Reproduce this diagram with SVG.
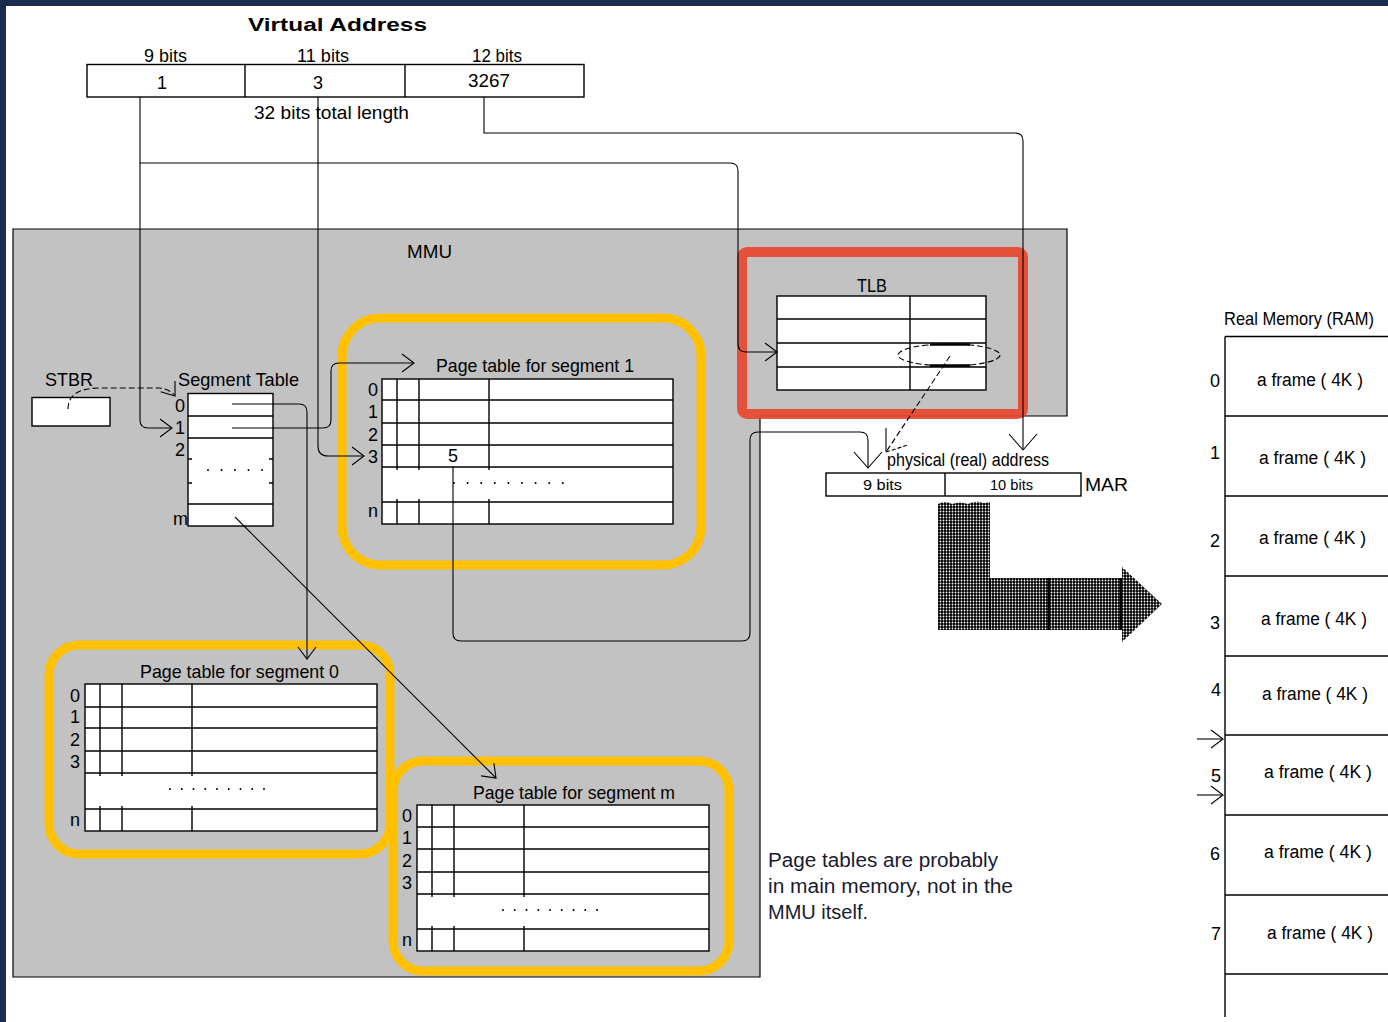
<svg xmlns="http://www.w3.org/2000/svg" width="1388" height="1022" viewBox="0 0 1388 1022">
<style>
text{font-family:"Liberation Sans",Arial,sans-serif;fill:#000;font-size:19px}
.sm{font-size:14px}
.md{font-size:18px}
.dg{font-size:18px}
.tb{fill:#fff;stroke:#000;stroke-width:1.4}
.ln{stroke:#000;stroke-width:1.4;fill:none}
.cn{stroke:#000;stroke-width:1.1;fill:none}
.dash{stroke-dasharray:6 3}
.dots{stroke:#000;stroke-width:2;stroke-linecap:round;fill:none}
.yb{fill:none;stroke:#ffc000;stroke-width:9}
.note{font-size:20px;fill:#1a1a30}
</style>
<defs>
<marker id="ah" viewBox="0 0 14 20" markerWidth="14" markerHeight="20" refX="13" refY="10" orient="auto" markerUnits="userSpaceOnUse"><path d="M1,1 L13,10 L1,19" fill="none" stroke="#000" stroke-width="1.1"/></marker>
<marker id="ahb" viewBox="0 0 18 30" markerWidth="18" markerHeight="30" refX="17" refY="15" orient="auto" markerUnits="userSpaceOnUse"><path d="M1,1 L17,15 L1,29" fill="none" stroke="#000" stroke-width="1.1"/></marker>
<pattern id="half" width="3" height="3" patternUnits="userSpaceOnUse"><rect width="3" height="3" fill="#000"/><circle cx="1.5" cy="1.5" r="0.9" fill="#fff"/></pattern>
</defs>
<rect width="1388" height="1022" fill="#1b2a50"/>
<rect x="6" y="6" width="1382" height="1016" fill="#fff"/>

<g id="virtual-address">
<text x="248" y="31" font-weight="bold" font-size="21" textLength="179" lengthAdjust="spacingAndGlyphs">Virtual Address</text>
<text x="144" y="62" class="md" textLength="43" lengthAdjust="spacingAndGlyphs">9 bits</text>
<text x="297" y="62" class="md" textLength="52" lengthAdjust="spacingAndGlyphs">11 bits</text>
<text x="472" y="62" class="md" textLength="50" lengthAdjust="spacingAndGlyphs">12 bits</text>
<rect x="87" y="64.5" width="497" height="32.5" class="tb"/>
<line x1="245" y1="64.5" x2="245" y2="97" class="ln"/>
<line x1="405" y1="64.5" x2="405" y2="97" class="ln"/>
<text x="162" y="89" class="dg" text-anchor="middle">1</text>
<text x="318" y="89" class="dg" text-anchor="middle">3</text>
<text x="468" y="87" class="md" textLength="42" lengthAdjust="spacingAndGlyphs">3267</text>
<text x="254" y="119" class="md" textLength="155" lengthAdjust="spacingAndGlyphs">32 bits total length</text>
</g>

<g id="mmu">
<path d="M13,229 H1067 V416 H760 V977 H13 Z" fill="#c2c2c2" stroke="#000" stroke-width="1.2"/>
<text x="407" y="258" textLength="45" lengthAdjust="spacingAndGlyphs">MMU</text>
</g>

<g id="stbr">
<text x="45" y="386" textLength="48" lengthAdjust="spacingAndGlyphs">STBR</text>
<rect x="32" y="397.5" width="78" height="28.5" class="tb"/>
</g>

<g id="segment-table">
<text x="178" y="386" textLength="121" lengthAdjust="spacingAndGlyphs">Segment Table</text>
<rect x="188" y="393.5" width="85" height="132.5" class="tb"/>
<path d="M188,416 H273 M188,438 H273 M188,504 H273 M188,459 h4 M188,483 h4 M273,459 h-4 M273,483 h-4" class="ln"/>
<path d="M208,470 H263" class="dots" stroke-dasharray="0 13.5"/>
<text x="175" y="412" class="dg">0</text>
<text x="175" y="434" class="dg">1</text>
<text x="175" y="456" class="dg">2</text>
<text x="173" y="525" class="dg">m</text>
</g>

<g id="page-table-seg1">
<rect x="342" y="318" width="359" height="247" rx="38" class="yb"/>
<text x="436" y="372" textLength="198" lengthAdjust="spacingAndGlyphs">Page table for segment 1</text>
<rect x="382" y="379" width="291" height="145" class="tb"/>
<path d="M382,400 H673 M382,423 H673 M382,445 H673 M382,467 H673 M382,502 H673 M397,379 V470 M419,379 V470 M489,379 V470 M397,499 V524 M419,499 V524 M489,499 V524" class="ln"/>
<path d="M454,483 H563" class="dots" stroke-dasharray="0 13.6"/>
<text x="368" y="396" class="dg">0</text><text x="368" y="418" class="dg">1</text><text x="368" y="441" class="dg">2</text><text x="368" y="463" class="dg">3</text><text x="368" y="517" class="dg">n</text>
<text x="448" y="462" class="dg">5</text>
</g>

<g id="page-table-seg0">
<rect x="49" y="645" width="341" height="209" rx="30" class="yb"/>
<text x="140" y="678" textLength="199" lengthAdjust="spacingAndGlyphs">Page table for segment 0</text>
<rect x="85" y="684" width="292" height="147" class="tb"/>
<path d="M85,707 H377 M85,728 H377 M85,751 H377 M85,773 H377 M85,809 H377 M100,684 V776 M122,684 V776 M192,684 V776 M100,806 V831 M122,806 V831 M192,806 V831" class="ln"/>
<path d="M170,789 H265" class="dots" stroke-dasharray="0 11.75"/>
<text x="70" y="702" class="dg">0</text><text x="70" y="723" class="dg">1</text><text x="70" y="746" class="dg">2</text><text x="70" y="768" class="dg">3</text><text x="70" y="826" class="dg">n</text>
</g>

<g id="page-table-segm">
<rect x="393" y="761" width="336" height="210" rx="30" class="yb"/>
<text x="473" y="799" textLength="202" lengthAdjust="spacingAndGlyphs">Page table for segment m</text>
<rect x="417" y="805" width="292" height="146" class="tb"/>
<path d="M417,827 H709 M417,849 H709 M417,872 H709 M417,894 H709 M417,929 H709 M432,805 V897 M454,805 V897 M524,805 V897 M432,926 V951 M454,926 V951 M524,926 V951" class="ln"/>
<path d="M503,910 H598" class="dots" stroke-dasharray="0 11.75"/>
<text x="402" y="822" class="dg">0</text><text x="402" y="844" class="dg">1</text><text x="402" y="867" class="dg">2</text><text x="402" y="889" class="dg">3</text><text x="402" y="946" class="dg">n</text>
</g>

<g id="tlb">
<text x="857" y="292" textLength="30" lengthAdjust="spacingAndGlyphs">TLB</text>
<rect x="777" y="296" width="209" height="94" class="tb"/>
<path d="M777,319 H986 M777,343 H986 M777,367 H986 M910,296 V390" class="ln"/>
<ellipse cx="949" cy="355" rx="51" ry="11" fill="none" stroke="#000" stroke-width="1.1" class="dash"/>
<path d="M930,344.5 H970 M930,365.5 H970" stroke="#000" stroke-width="2.6"/>
<rect x="742" y="252" width="281" height="162" rx="5" fill="none" stroke="#e8472f" stroke-width="10" opacity="0.92"/>
</g>

<g id="mar">
<text x="887" y="466" font-size="17" textLength="162" lengthAdjust="spacingAndGlyphs">physical (real) address</text>
<rect x="826" y="473" width="255" height="23" class="tb"/>
<line x1="945" y1="473" x2="945" y2="496" class="ln"/>
<text x="863" y="490" class="sm" textLength="39" lengthAdjust="spacingAndGlyphs">9  bits</text>
<text x="990" y="490" class="sm" textLength="43" lengthAdjust="spacingAndGlyphs">10 bits</text>
<text x="1085" y="491" textLength="43" lengthAdjust="spacingAndGlyphs">MAR</text>
</g>

<g id="fat-arrow">
<path d="M938,504 Q945,500 952,504 Q960,501 968,504 Q976,500 984,503 L990,502 V578 H1122 V567 L1162,604 L1122,642 V630 H938 Z" fill="url(#half)"/>
<path d="M990,578 V630 M1049,578 V630 M1121,578 V630" stroke="#000" stroke-width="2"/>
</g>

<g id="real-memory">
<text x="1224" y="325" font-size="16" textLength="150" lengthAdjust="spacingAndGlyphs">Real Memory (RAM)</text>
<path d="M1225,336.5 V1017 M1225,336.5 H1388 M1225,416 H1388 M1225,496 H1388 M1225,576 H1388 M1225,656 H1388 M1225,735 H1388 M1225,815 H1388 M1225,895 H1388 M1225,974 H1388" class="ln"/>
<text x="1210" y="387" class="md">0</text>
<text x="1210" y="459" class="md">1</text>
<text x="1210" y="547" class="md">2</text>
<text x="1210" y="629" class="md">3</text>
<text x="1211" y="696" class="md">4</text>
<text x="1211" y="782" class="md">5</text>
<text x="1210" y="860" class="md">6</text>
<text x="1211" y="940" class="md">7</text>
<text x="1257" y="386" class="md" textLength="106" lengthAdjust="spacingAndGlyphs">a frame ( 4K )</text>
<text x="1259" y="464" class="md" textLength="107" lengthAdjust="spacingAndGlyphs">a frame ( 4K )</text>
<text x="1259" y="544" class="md" textLength="107" lengthAdjust="spacingAndGlyphs">a frame ( 4K )</text>
<text x="1261" y="625" class="md" textLength="106" lengthAdjust="spacingAndGlyphs">a frame ( 4K )</text>
<text x="1262" y="700" class="md" textLength="106" lengthAdjust="spacingAndGlyphs">a frame ( 4K )</text>
<text x="1264" y="778" class="md" textLength="108" lengthAdjust="spacingAndGlyphs">a frame ( 4K )</text>
<text x="1264" y="858" class="md" textLength="108" lengthAdjust="spacingAndGlyphs">a frame ( 4K )</text>
<text x="1267" y="939" class="md" textLength="106" lengthAdjust="spacingAndGlyphs">a frame ( 4K )</text>
</g>

<g id="note">
<text x="768" y="867" class="note" textLength="230" lengthAdjust="spacingAndGlyphs">Page tables are probably</text>
<text x="768" y="893" class="note" textLength="245" lengthAdjust="spacingAndGlyphs">in main memory, not in the</text>
<text x="768" y="919" class="note" textLength="100" lengthAdjust="spacingAndGlyphs">MMU itself.</text>
</g>

<g id="connectors">
<path d="M140,97 V163 H730 Q738,163 738,171 V344 Q738,352 746,352 H777" class="cn" marker-end="url(#ah)"/>
<path d="M140,163 V420 Q140,428 148,428 H172" class="cn" marker-end="url(#ah)"/>
<path d="M318,97 V446 Q318,456 328,456 H364" class="cn" marker-end="url(#ah)"/>
<path d="M484,97 V133 H1015 Q1023,133 1023,141 V450" class="cn" marker-end="url(#ahb)"/>
<path d="M232,404 H299 Q307,404 307,412 V659" class="cn" marker-end="url(#ah)"/>
<path d="M232,428 H323 Q331,428 331,420 V371 Q331,363 339,363 H414" class="cn" marker-end="url(#ah)"/>
<path d="M235,517 L496,778" class="cn" marker-end="url(#ah)"/>
<path d="M68,409 C68,393 82,388 100,388 H158 C166,388 172,392 175,396" class="cn dash" marker-end="url(#ah)"/>
<path d="M453,467 V633 Q453,641 461,641 H742 Q750,641 750,633 V440 Q750,432 758,432 H860 Q868,432 868,440 V468" class="cn" marker-end="url(#ahb)"/>
<path d="M950,356 L886,452" class="cn dash"/>
<path d="M886,428 V452" class="cn"/>
<path d="M886,452 L908,445" class="cn" stroke-dasharray="4 2"/>
<path d="M1197,739 H1223" class="cn" marker-end="url(#ah)"/>
<path d="M1197,795 H1223" class="cn" marker-end="url(#ah)"/>
</g>
</svg>
